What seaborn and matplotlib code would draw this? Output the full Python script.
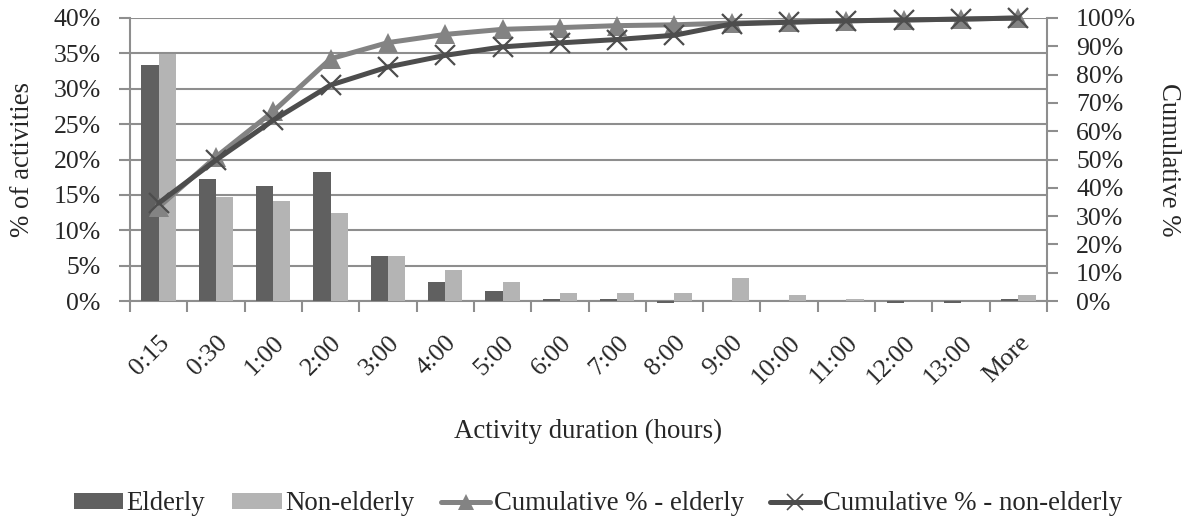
import numpy as np
import pandas as pd
import matplotlib
matplotlib.use("Agg")
import matplotlib.pyplot as plt
from matplotlib.lines import Line2D
from matplotlib.patches import Patch
import seaborn as sns

categories = ["0:15", "0:30", "1:00", "2:00", "3:00", "4:00", "5:00", "6:00",
              "7:00", "8:00", "9:00", "10:00", "11:00", "12:00", "13:00", "More"]
elderly = [33.4, 17.3, 16.3, 18.2, 6.3, 2.7, 1.4, 0.3, 0.3, -0.35, 0.05, 0.05, 0.05, -0.3, -0.3, 0.3]
non_elderly = [34.9, 14.7, 14.1, 12.5, 6.3, 4.4, 2.7, 1.1, 1.1, 1.1, 3.3, 0.8, 0.3, 0.05, 0.05, 0.8]
cum_elderly = [33.2, 50.9, 67.0, 85.6, 91.3, 94.2, 96.0, 96.6, 97.3, 97.6, 98.2, 98.6, 99.0, 99.3, 99.6, 100.0]
cum_non_elderly = [34.6, 49.8, 63.9, 76.3, 82.7, 86.8, 89.8, 91.2, 92.4, 93.9, 97.9, 98.5, 99.0, 99.3, 99.6, 100.0]

series_names = ["Elderly", "Non-elderly", "Cumulative % - elderly", "Cumulative % - non-elderly"]
left_ticks = [0, 5, 10, 15, 20, 25, 30, 35, 40]
right_ticks = [0, 10, 20, 30, 40, 50, 60, 70, 80, 90, 100]

c_dark = "#606060"
c_light = "#b4b4b4"
c_cum_e = "#838383"
c_cum_n = "#4d4d4d"
c_grid = "#8e8e8e"

sns.set_theme(style="white")
plt.rcParams["font.family"] = ["Liberation Serif", "DejaVu Serif"]
fs_tick = 18.5
fs_lab = 19.3

df = pd.DataFrame({
    "cat": categories * 2,
    "val": elderly + non_elderly,
    "series": [series_names[0]] * len(categories) + [series_names[1]] * len(categories),
})

fig = plt.figure(figsize=(11.9, 5.23), dpi=100)
ax = fig.add_axes([130 / 1190, 1 - 301 / 523, (1047 - 130) / 1190, (301 - 18) / 523])

sns.barplot(data=df, x="cat", y="val", hue="series", order=categories,
            palette=[c_dark, c_light], width=0.6, saturation=1, legend=False,
            ax=ax, edgecolor="none", linewidth=0)
for p in ax.patches:
    p.set_clip_on(False)
    p.set_zorder(3)

n = len(categories)
ax.set_xlim(-0.5, n - 0.5)
ax.set_ylim(0, 40)
ax.set_yticks(left_ticks)
ax.set_yticklabels([f"{t}%" for t in left_ticks], fontsize=fs_tick)
ax.set_xticks(np.arange(n))
ax.set_xticklabels(categories, rotation=45, ha="right", va="top",
                   rotation_mode="anchor", fontsize=fs_tick)
ax.tick_params(axis="x", length=0, pad=22)
ax.set_xticks(np.arange(-0.5, n, 1.0), minor=True)
ax.tick_params(axis="x", which="minor", length=8, width=1.5, color=c_grid, direction="out", bottom=True)
ax.tick_params(axis="y", length=8, width=1.5, color=c_grid, direction="out", left=True, pad=13)
ax.yaxis.grid(True, color=c_grid, linewidth=1.5)
ax.set_axisbelow(True)
for s in ["top", "right"]:
    ax.spines[s].set_visible(False)
for s in ["left", "bottom"]:
    ax.spines[s].set_color(c_grid)
    ax.spines[s].set_linewidth(1.5)
    ax.spines[s].set_zorder(2)

ax.set_xlabel("Activity duration (hours)", fontsize=fs_lab, va="center")
ax.xaxis.set_label_coords(0.5, (301 - 431) / 283)
ax.set_ylabel("% of activities", fontsize=fs_lab, va="center")
ax.yaxis.set_label_coords((23 - 130) / 917, 0.5)

ax2 = ax.twinx()
x = np.arange(n)
ax2.plot(x, cum_elderly, color=c_cum_e, lw=3.6, marker="^", markersize=14,
         markeredgewidth=0, markerfacecolor=c_cum_e, clip_on=False, zorder=3)
ax2.plot(x, cum_non_elderly, color=c_cum_n, lw=3.6, marker="x", markersize=14,
         markeredgewidth=1.6, markeredgecolor=c_cum_n, clip_on=False, zorder=4)
ax2.set_ylim(0, 100)
ax2.set_yticks(right_ticks)
ax2.set_yticklabels([f"{t}%" for t in right_ticks], fontsize=fs_tick)
ax2.tick_params(axis="y", length=8, width=1.5, color=c_grid, direction="out", right=True, pad=13)
ax2.grid(False)
for s in ["top", "left", "bottom"]:
    ax2.spines[s].set_visible(False)
ax2.spines["right"].set_color(c_grid)
ax2.spines["right"].set_linewidth(1.5)
ax2.set_ylabel("Cumulative %", fontsize=fs_lab, rotation=270, va="center")
ax2.yaxis.set_label_coords((1169 - 130) / 917, 0.5)

handles = [
    Patch(facecolor=c_dark, edgecolor="none"),
    Patch(facecolor=c_light, edgecolor="none"),
    Line2D([], [], color=c_cum_e, lw=3.6, marker="^", markersize=11, markeredgewidth=0),
    Line2D([], [], color=c_cum_n, lw=3.6, marker="x", markersize=11, markeredgewidth=1.2),
]
fig.legend(handles, series_names, loc="center", bbox_to_anchor=(598 / 1190, 1 - 504 / 523),
           ncol=4, frameon=False, fontsize=fs_lab, handlelength=1.85, handletextpad=0.12,
           columnspacing=1.0, handleheight=0.55, borderpad=0.1)

fig.savefig("out.png", dpi=100)
